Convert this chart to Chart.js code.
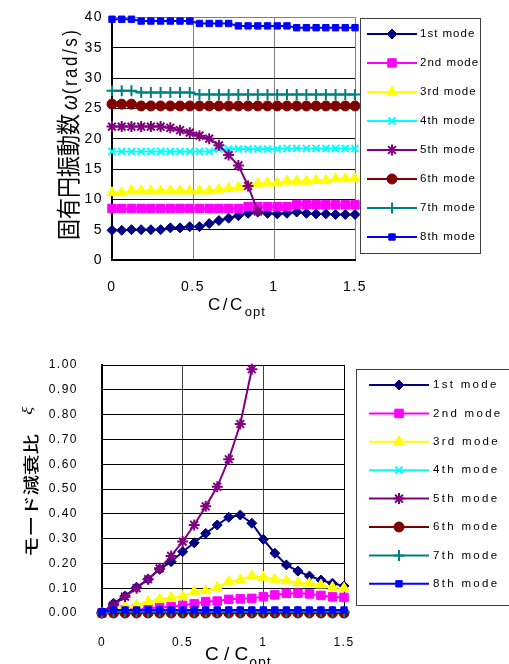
<!DOCTYPE html>
<html lang="ja">
<head>
<meta charset="UTF-8">
<title>固有円振動数・モード減衰比</title>
<script src="https://cdn.jsdelivr.net/npm/chart.js"></script>
<style>
  html, body { margin: 0; padding: 0; background: #fff; }
  #wrap { position: relative; width: 509px; height: 664px; overflow: hidden; }
  canvas { position: absolute; left: 0; }
  #chartOmega { top: 0; }
  #chartXi { top: 320px; }
</style>
</head>
<body>
<div id="wrap">
  <canvas id="chartOmega" width="509" height="320"></canvas>
  <canvas id="chartXi" width="509" height="344"></canvas>
</div>
<script>
// ---------- data ----------
const modeNames = ['1st mode', '2nd mode', '3rd mode', '4th mode', '5th mode', '6th mode', '7th mode', '8th mode'];
const modeColors = ['#000080', '#FF00FF', '#FFFF00', '#00FFFF', '#800080', '#800000', '#008080', '#0000FF'];
const markerStyle = ['rectRot', 'rect', 'triangle', 'crossRot', 'star', 'circle', 'cross', 'rect'];
const markerSize = [5, 6, 6, 5, 5.5, 5, 5.5, 4.5];

const xTicks = [0, 0.5, 1, 1.5];
const omegaTicks = [0, 5, 10, 15, 20, 25, 30, 35, 40];
const xiTicks = [0, 0.1, 0.2, 0.3, 0.4, 0.5, 0.6, 0.7, 0.8, 0.9, 1.0];

// top chart: natural circular frequency (rad/s)
const xOmega = [0, 0.06, 0.12, 0.18, 0.24, 0.30, 0.36, 0.42, 0.48, 0.54, 0.60, 0.66, 0.72,
                0.78, 0.84, 0.90, 0.96, 1.02, 1.08, 1.14, 1.20, 1.26, 1.32, 1.38, 1.44, 1.50];
const omegaMode1 = [4.9, 4.9, 5.0, 5.0, 5.0, 5.0, 5.3, 5.3, 5.5, 5.5, 6.0, 6.5, 6.9, 7.3, 7.7, 7.9, 7.7, 7.6, 7.7, 7.9, 7.7, 7.6, 7.6, 7.5, 7.5, 7.5];
const omegaMode2 = [8.5, 8.5, 8.5, 8.5, 8.5, 8.5, 8.5, 8.5, 8.5, 8.5, 8.5, 8.5, 8.5, 8.5, 8.8, 8.8, 8.8, 8.8, 8.8, 9.1, 9.1, 9.1, 9.1, 9.1, 9.1, 9.1];
const omegaMode3 = [11.1, 11.1, 11.4, 11.4, 11.4, 11.4, 11.4, 11.4, 11.4, 11.4, 11.4, 11.65, 11.8, 12.0, 12.35, 12.6, 12.7, 12.7, 13.0, 13.0, 13.0, 13.1, 13.1, 13.4, 13.4, 13.4];
const omegaMode4 = [17.9, 17.9, 17.9, 17.9, 17.9, 17.9, 17.9, 17.9, 17.9, 17.9, 17.9, 18.3, 18.3, 18.3, 18.3, 18.3, 18.3, 18.3, 18.4, 18.4, 18.4, 18.4, 18.4, 18.4, 18.4, 18.4];
const omegaMode5 = [22.0, 22.0, 22.0, 22.0, 22.0, 22.0, 21.8, 21.4, 21.0, 20.5, 20.0, 18.9, 17.3, 15.6, 12.2, 8.0,
                    null, null, null, null, null, null, null, null, null, null];
const omegaMode6 = [25.7, 25.7, 25.7, 25.4, 25.4, 25.4, 25.4, 25.4, 25.4, 25.4, 25.4, 25.4, 25.4, 25.4, 25.4, 25.4, 25.4, 25.4, 25.4, 25.4, 25.4, 25.4, 25.4, 25.4, 25.4, 25.4];
const omegaMode7 = [27.9, 27.9, 27.9, 27.6, 27.6, 27.6, 27.6, 27.6, 27.6, 27.3, 27.3, 27.3, 27.3, 27.3, 27.3, 27.3, 27.3, 27.3, 27.3, 27.3, 27.3, 27.3, 27.3, 27.3, 27.3, 27.3];
const omegaMode8 = [39.7, 39.7, 39.7, 39.4, 39.4, 39.4, 39.4, 39.4, 39.4, 39.0, 39.0, 39.0, 39.0, 38.6, 38.6, 38.6, 38.6, 38.6, 38.6, 38.3, 38.3, 38.3, 38.3, 38.3, 38.3, 38.3];

// bottom chart: modal damping ratio
const xXi = [0, 0.0714, 0.1429, 0.2143, 0.2857, 0.3571, 0.4286, 0.5, 0.5714, 0.6429, 0.7143,
             0.7857, 0.8571, 0.9286, 1.0, 1.0714, 1.1429, 1.2143, 1.2857, 1.3571, 1.4286, 1.5];
const xiMode1 = [0.0, 0.039, 0.069, 0.104, 0.136, 0.176, 0.207, 0.247, 0.283, 0.321, 0.355, 0.386, 0.395, 0.362, 0.297, 0.241, 0.194, 0.169, 0.149, 0.133, 0.120, 0.109];
const xiMode2 = [0.0, 0.010, 0.013, 0.016, 0.019, 0.022, 0.026, 0.031, 0.037, 0.046, 0.048, 0.055, 0.057, 0.059, 0.066, 0.073, 0.079, 0.080, 0.077, 0.071, 0.065, 0.063];
const xiMode3 = [0.0, 0.018, 0.025, 0.032, 0.046, 0.055, 0.063, 0.066, 0.086, 0.090, 0.104, 0.126, 0.133, 0.149, 0.144, 0.136, 0.130, 0.122, 0.120, 0.113, 0.104, 0.100];
const xiMode4 = [0.0, 0.002, 0.002, 0.002, 0.002, 0.002, 0.002, 0.002, 0.002, 0.002, 0.002, 0.002, 0.002, 0.002, 0.002, 0.002, 0.002, 0.002, 0.002, 0.002, 0.002, 0.002];
const xiMode5 = [0.0, 0.032, 0.066, 0.100, 0.136, 0.180, 0.230, 0.288, 0.355, 0.430, 0.509, 0.620, 0.762, 0.983,
                 null, null, null, null, null, null, null, null];
const xiMode6 = [0.0, 0.0, 0.0, 0.0, 0.0, 0.0, 0.0, 0.0, 0.0, 0.0, 0.0, 0.0, 0.0, 0.0, 0.0, 0.0, 0.0, 0.0, 0.0, 0.0, 0.0, 0.0];
const xiMode7 = [0.0, 0.005, 0.005, 0.005, 0.005, 0.005, 0.005, 0.005, 0.005, 0.005, 0.005, 0.005, 0.005, 0.005, 0.005, 0.005, 0.005, 0.005, 0.005, 0.005, 0.005, 0.005];
const xiMode8 = [0.005, 0.012, 0.012, 0.012, 0.012, 0.012, 0.012, 0.012, 0.012, 0.012, 0.012, 0.012, 0.012, 0.012, 0.012, 0.012, 0.012, 0.012, 0.012, 0.012, 0.012, 0.012];

const omegaTitle = ['固有円振動数', 'ω', '(rad/s)'];
const xiTitle = ['モード減衰比', 'ξ'];
const xTitle = ['C/C', 'opt'];

// ---------- helpers ----------
function makeDatasets(xs, seriesList) {
  return seriesList.map((values, i) => {
    const open = ['crossRot', 'star', 'cross'].includes(markerStyle[i]);
    return {
      label: modeNames[i],
      data: xs.map((x, j) => ({ x: x, y: values[j] })).filter(p => p.y !== null),
      borderColor: modeColors[i],
      backgroundColor: modeColors[i],
      borderWidth: 2,
      pointStyle: markerStyle[i],
      pointRadius: markerSize[i],
      pointBorderWidth: open ? 2 : 1,
      pointBackgroundColor: modeColors[i],
      pointBorderColor: modeColors[i],
      tension: 0,
      clip: false,
      order: 8 - i
    };
  });
}

function fixedTicks(list) {
  return scale => { scale.ticks = list.map(v => ({ value: v })); };
}

// legend like the spreadsheet one: line + marker + name, inside a box
function modeLegend(box) {
  return {
    id: 'modeLegend',
    afterDraw(chart) {
      const ctx = chart.ctx;
      ctx.save();
      ctx.letterSpacing = '0px';
      ctx.strokeStyle = '#404040';
      ctx.lineWidth = 1;
      ctx.strokeRect(box.x + 0.5, box.y + 0.5, box.w, box.h);
      modeNames.forEach((name, i) => {
        const y = box.firstY + i * box.gap;
        const open = ['crossRot', 'star', 'cross'].includes(markerStyle[i]);
        ctx.strokeStyle = modeColors[i];
        ctx.fillStyle = modeColors[i];
        ctx.lineWidth = 2;
        ctx.beginPath();
        ctx.moveTo(box.lineX0, y);
        ctx.lineTo(box.lineX1, y);
        ctx.stroke();
        ctx.lineWidth = open ? 2 : 1;
        Chart.helpers.drawPoint(ctx, {
          pointStyle: markerStyle[i], radius: markerSize[i], rotation: 0, borderWidth: open ? 2 : 1
        }, (box.lineX0 + box.lineX1) / 2, y);
        ctx.fillStyle = '#000';
        ctx.font = box.font;
        ctx.letterSpacing = box.spacing;
        ctx.textAlign = 'left';
        ctx.textBaseline = 'middle';
        ctx.fillText(name, box.textX, y);
      });
      ctx.restore();
    }
  };
}

function tickSpacing(px) {
  return {
    id: 'tickSpacing',
    beforeDraw(chart) { chart.ctx.letterSpacing = px; },
    afterDraw(chart) { chart.ctx.letterSpacing = '0px'; }
  };
}

// ---------- top chart ----------
const omegaTitles = {
  id: 'omegaTitles',
  afterDraw(chart) {
    const ctx = chart.ctx;
    ctx.save();
    ctx.fillStyle = '#000';
    ctx.textAlign = 'left';
    ctx.textBaseline = 'alphabetic';
    // x title
    ctx.font = '17px "Liberation Sans"';
    ctx.letterSpacing = '2.5px';
    ctx.fillText(xTitle[0], 208, 310);
    const w = ctx.measureText(xTitle[0]).width;
    ctx.font = '13px "Liberation Sans"';
    ctx.letterSpacing = '1px';
    ctx.fillText(xTitle[1], 208 + w, 316);
    // y title
    ctx.translate(77, 240);
    ctx.rotate(-Math.PI / 2);
    ctx.scale(1, 1.15);
    ctx.letterSpacing = '0px';
    ctx.font = '21px "Noto Sans CJK JP"';
    ctx.fillText(omegaTitle[0], 0, 0);
    let x = ctx.measureText(omegaTitle[0]).width + 4;
    ctx.font = 'italic 19px "Liberation Sans"';
    ctx.fillText(omegaTitle[1], x, 0);
    x += ctx.measureText(omegaTitle[1]).width + 1;
    ctx.font = '17px "Liberation Sans"';
    ctx.letterSpacing = '2.5px';
    ctx.fillText(omegaTitle[2], x, 0);
    ctx.restore();
  }
};

new Chart(document.getElementById('chartOmega'), {
  type: 'line',
  data: {
    datasets: makeDatasets(xOmega, [omegaMode1, omegaMode2, omegaMode3, omegaMode4,
                                    omegaMode5, omegaMode6, omegaMode7, omegaMode8])
  },
  options: {
    responsive: false,
    animation: false,
    layout: { padding: { left: 0, right: 154, top: 14, bottom: 0 } },
    plugins: { legend: { display: false }, tooltip: { enabled: false } },
    scales: {
      x: {
        type: 'linear', min: xTicks[0], max: xTicks[xTicks.length - 1],
        afterBuildTicks: fixedTicks(xTicks),
        afterFit: s => { s.height = 60; },
        grid: { color: '#808080', lineWidth: 1, drawTicks: false },
        border: { color: '#000', width: 2 },
        ticks: { color: '#000', padding: 19, font: { family: 'Liberation Sans', size: 14 }, callback: v => String(v) }
      },
      y: {
        min: omegaTicks[0], max: omegaTicks[omegaTicks.length - 1],
        afterBuildTicks: fixedTicks(omegaTicks),
        afterFit: s => { s.width = 112; },
        grid: { color: c => (c.tick && c.tick.value === 40 ? '#808080' : '#000'), lineWidth: 1, drawTicks: false },
        border: { color: '#000', width: 2 },
        ticks: { color: '#000', padding: 9, font: { family: 'Liberation Sans', size: 14 }, callback: v => String(v) }
      }
    }
  },
  plugins: [tickSpacing('1.5px'), omegaTitles,
            modeLegend({ x: 360, y: 18, w: 120, h: 235, firstY: 34, gap: 29, lineX0: 367, lineX1: 417,
                         textX: 420, font: '11.5px "Liberation Sans"', spacing: '1px' })]
});

// ---------- bottom chart ----------
const xiTitles = {
  id: 'xiTitles',
  afterDraw(chart) {
    const ctx = chart.ctx;
    ctx.save();
    ctx.fillStyle = '#000';
    ctx.textAlign = 'left';
    ctx.textBaseline = 'alphabetic';
    // x title
    ctx.font = '19px "Liberation Sans"';
    ctx.letterSpacing = '0px';
    const head = xTitle[0].replace('/', ' / ');
    ctx.fillText(head, 205, 340);
    const w = ctx.measureText(head).width;
    ctx.font = '14px "Liberation Sans"';
    ctx.letterSpacing = '1px';
    ctx.fillText(xTitle[1], 206 + w, 347);
    // y title
    ctx.translate(37, 237);
    ctx.rotate(-Math.PI / 2);
    ctx.scale(1.28, 1);
    ctx.letterSpacing = '0px';
    ctx.font = '500 16px "Noto Sans CJK JP"';
    ctx.fillText(xiTitle[0], 0, 0);
    const x = ctx.measureText(xiTitle[0]).width + 15;
    ctx.font = 'italic 15px "Liberation Serif"';
    ctx.fillText(xiTitle[1], x, -5);
    ctx.restore();
  }
};

new Chart(document.getElementById('chartXi'), {
  type: 'line',
  data: {
    datasets: makeDatasets(xXi, [xiMode1, xiMode2, xiMode3, xiMode4,
                                 xiMode5, xiMode6, xiMode7, xiMode8])
  },
  options: {
    responsive: false,
    animation: false,
    layout: { padding: { left: 0, right: 165, top: 45, bottom: 0 } },
    plugins: { legend: { display: false }, tooltip: { enabled: false } },
    scales: {
      x: {
        type: 'linear', min: xTicks[0], max: xTicks[xTicks.length - 1],
        afterBuildTicks: fixedTicks(xTicks),
        afterFit: s => { s.height = 51; },
        grid: { color: c => (c.tick && c.tick.value === 1.5 ? '#000' : '#404040'), lineWidth: 1, drawTicks: false },
        border: { color: '#000', width: 2 },
        ticks: { color: '#000', padding: 22, font: { family: 'Liberation Sans', size: 12 }, callback: v => String(v) }
      },
      y: {
        min: xiTicks[0], max: xiTicks[xiTicks.length - 1],
        afterBuildTicks: fixedTicks(xiTicks),
        afterFit: s => { s.width = 102; },
        grid: { color: '#000', lineWidth: 1, drawTicks: false },
        border: { color: '#000', width: 2 },
        ticks: { color: '#000', padding: 24, font: { family: 'Liberation Sans', size: 12 }, callback: v => Number(v).toFixed(2) }
      }
    }
  },
  plugins: [tickSpacing('1.5px'), xiTitles,
            modeLegend({ x: 356, y: 49, w: 160, h: 236, firstY: 65, gap: 28.4, lineX0: 369, lineX1: 429,
                         textX: 433, font: '11.5px "Liberation Sans"', spacing: '2.3px' })]
});
</script>
</body>
</html>
